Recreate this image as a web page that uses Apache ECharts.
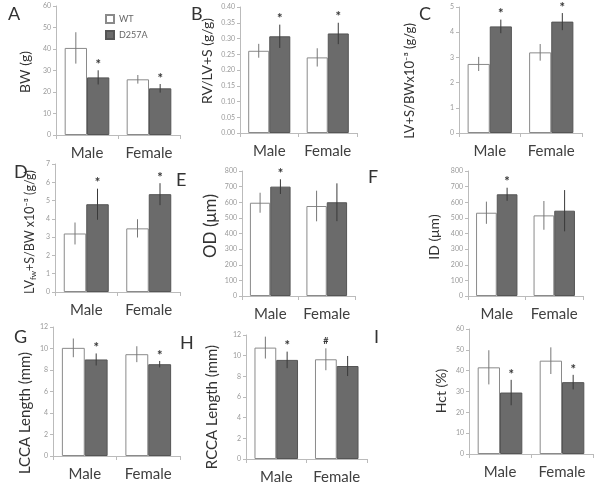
<!DOCTYPE html>
<html><head><meta charset="utf-8">
<script src="https://cdn.jsdelivr.net/npm/echarts@6/dist/echarts.min.js"></script>
<style>html,body{margin:0;padding:0;background:#fff}#c{width:600px;height:491px}</style>
</head><body><div id="c"></div>
<script>
// ---- data ----
const categories = ['Male', 'Female'];
const panelLetters = ['A','B','C','D','E','F','G','H','I'];
const yNames = ['BW (g)', 'RV/LV+S (g/g)', 'LV+S/BWx10\u207B\u00B3 (g/g)',
  'LV{sub|fw}+S/BW x10\u207B\u00B3 (g/g)', 'OD (\u03BCm)', 'ID (\u03BCm)',
  'LCCA Length (mm)', 'RCCA Length (mm)', 'Hct (%)'];
const wtMean  = [[40.5, 25.9], [0.261, 0.240], [2.74, 3.20], [3.20, 3.48], [597, 576], [533, 516], [10.06, 9.47], [10.78, 9.65], [41.6, 44.8]];
const wtErr   = [[7.3, 2.0], [0.022, 0.029], [0.28, 0.33], [0.60, 0.50], [64, 98], [71, 92], [0.87, 0.74], [1.06, 1.06], [8.2, 6.4]];
const mutMean = [[26.8, 21.7], [0.307, 0.316], [4.23, 4.42], [4.80, 5.35], [700, 600], [651, 546], [8.98, 8.54], [9.59, 9.00], [29.5, 34.5]];
const mutErr  = [[3.3, 2.0], [0.037, 0.034], [0.27, 0.34], [0.85, 0.60], [47, 121], [42, 132], [0.56, 0.30], [0.80, 0.97], [6.1, 3.5]];
const wtMarks  = [['',''], ['',''], ['',''], ['',''], ['',''], ['',''], ['',''], ['','#'], ['','']];
const mutMarks = [['*','*'], ['*','*'], ['*','*'], ['*','*'], ['*',''], ['*',''], ['*','*'], ['*',''], ['*','*']];
const yMax = [60, 0.4, 5, 7, 800, 800, 12, 12, 60];
const yStep = [10, 0.05, 1, 1, 100, 100, 2, 2, 10];

// ---- layout ----
const layout = [ // left, top, width, height
  [56, 6, 124, 129], [240, 7, 117, 126], [459, 7, 123, 126],
  [55, 164, 125, 128], [242, 171, 113, 125], [468, 171, 115, 125],
  [53, 327, 127, 129], [246, 335, 121, 124], [469, 329, 124, 125]
];
const namePos = [ // center x, center y, fontSize
  [25, 72, 14], [207, 61, 14], [410, 81, 13],
  [30, 232, 12.5], [211, 226, 17], [434, 237, 14],
  [25, 413, 15], [212, 407, 15], [441, 391, 14]
];
const letterPos = [[14,14],[197,14],[425,14],[20,172],[182,180],[374,177],[20,337],[186,343],[380,337]];
const GAP = 0.28;
const FONT = 'Lato, "Open Sans", sans-serif';

const grid = [], xAxis = [], yAxis = [], series = [], graphic = [];

function errSeries(i, isWT) {
  const means = isWT ? wtMean[i] : mutMean[i];
  const errs = isWT ? wtErr[i] : mutErr[i];
  const marks = isWT ? wtMarks[i] : mutMarks[i];
  return {
    type: 'custom', xAxisIndex: i, yAxisIndex: i, z: 10, silent: true,
    data: means.map((m, k) => [k, m, errs[k]]),
    renderItem: function (params, api) {
      const cat = api.value(0), mean = api.value(1), err = api.value(2);
      const catW = api.size([1, 0])[0];
      const bw = catW * (1 - GAP) / 2;
      const c = api.coord([cat, mean]);
      const x = c[0] + (isWT ? -bw / 2 : bw / 2);
      const top = api.coord([cat, mean + err])[1];
      const bot = api.coord([cat, mean - err])[1];
      const children = [{
        type: 'line', shape: {x1: x, y1: top, x2: x, y2: bot},
        style: {stroke: isWT ? '#777' : '#3a3a3a', lineWidth: 1}
      }];
      const mk = marks[params.dataIndex];
      if (mk) {
        children.push({type: 'text', style: {
          text: mk, x: x, y: top - (mk === '*' ? -1 : 3), align: 'center', verticalAlign: 'bottom',
          fontSize: mk === '*' ? 13 : 9, fontFamily: FONT, fill: '#333', fontWeight: 'bold'
        }});
      }
      return {type: 'group', children: children};
    }
  };
}

for (let i = 0; i < 9; i++) {
  const L = layout[i];
  grid.push({left: L[0], top: L[1], width: L[2], height: L[3], outerBoundsMode: 'none', containLabel: false});
  xAxis.push({
    type: 'category', gridIndex: i, data: categories,
    axisLine: {lineStyle: {color: '#bbb'}},
    axisTick: {show: true, length: 4, lineStyle: {color: '#bbb'}},
    axisLabel: {interval: 0, fontSize: 15, color: '#404040', margin: 11, fontFamily: FONT, hideOverlap: false}
  });
  yAxis.push({
    type: 'value', gridIndex: i, min: 0, max: yMax[i], interval: yStep[i],
    splitLine: {show: false},
    axisLine: {show: true, lineStyle: {color: '#bbb'}},
    axisTick: {show: true, length: 3, lineStyle: {color: '#bbb'}},
    axisLabel: {fontSize: 7, color: '#9a9a9a', margin: 5, fontFamily: FONT,
      formatter: i === 1 ? (v => v.toFixed(2)) : (v => String(v))}
  });
  series.push({
    name: 'WT', type: 'bar', xAxisIndex: i, yAxisIndex: i, data: wtMean[i],
    barGap: 0, barCategoryGap: (GAP * 100) + '%',
    itemStyle: {color: '#ffffff', borderColor: '#8a8a8a', borderWidth: 1}
  });
  series.push({
    name: 'D257A', type: 'bar', xAxisIndex: i, yAxisIndex: i, data: mutMean[i],
    barGap: 0, barCategoryGap: (GAP * 100) + '%',
    itemStyle: {color: '#6b6b6b', borderColor: '#555', borderWidth: 1}
  });
  series.push(errSeries(i, true));
  series.push(errSeries(i, false));
  graphic.push({type: 'text', left: letterPos[i][0] - 6, top: letterPos[i][1] - 9,
    style: {text: panelLetters[i], fontSize: 18, fill: '#333', fontFamily: FONT}});
  const N = namePos[i];
  graphic.push({type: 'text', x: N[0], y: N[1], rotation: Math.PI / 2,
    style: {text: yNames[i], x: 0, y: 0, align: 'center', verticalAlign: 'middle',
      fontSize: N[2], fill: '#333', fontFamily: FONT,
      rich: {sub: {fontSize: 8, fill: '#333', fontFamily: FONT, verticalAlign: 'bottom', padding: [6, 0, 0, 0]}}}});
}

const chart = echarts.init(document.getElementById('c'), null, {renderer: 'canvas'});
chart.setOption({
  animation: false,
  backgroundColor: '#fff',
  legend: {
    data: ['WT', 'D257A'], orient: 'vertical', left: 100, top: 9,
    itemWidth: 8, itemHeight: 8, itemGap: 6, icon: 'rect',
    textStyle: {fontSize: 9, color: '#666', fontFamily: FONT}
  },
  grid, xAxis, yAxis, series, graphic
});
</script></body></html>
